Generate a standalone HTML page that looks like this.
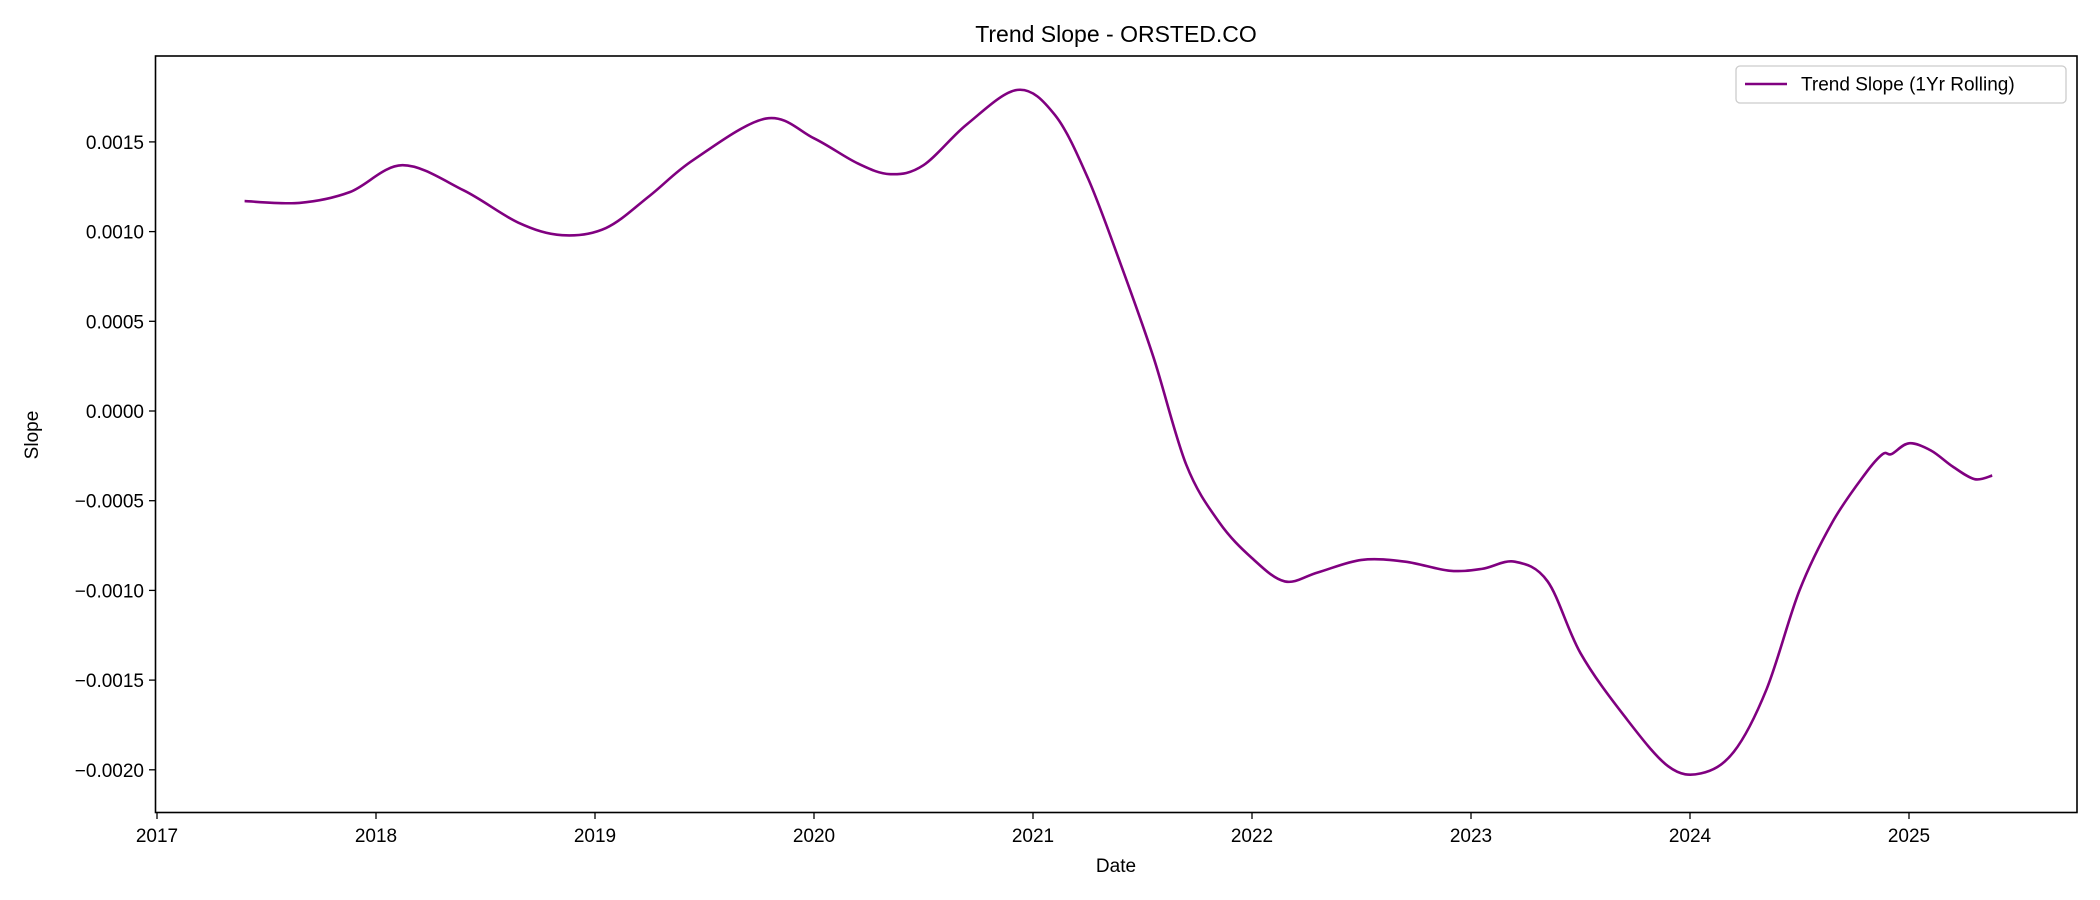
<!DOCTYPE html>
<html><head><meta charset="utf-8"><style>
body{margin:0;background:#fff}
svg{display:block;font-family:"Liberation Sans","DejaVu Sans",sans-serif}
</style></head><body>
<svg id="chart" width="2100" height="900" viewBox="0 0 2100 900">
<text x="1116" y="42" text-anchor="middle" font-size="23">Trend Slope - ORSTED.CO</text>
<g id="yticks"></g>
<g id="xticks"></g>
<g id="plot"></g>
<rect x="155.5" y="56" width="1921.5" height="756.5" fill="none" stroke="#000" stroke-width="1.6"/>
<text x="1116" y="872" text-anchor="middle" font-size="19">Date</text>
<text x="38" y="435" text-anchor="middle" font-size="19" transform="rotate(-90 38 435)">Slope</text>
<g>
<rect x="1736" y="66" width="330" height="37" rx="4" fill="#fff" stroke="#ccc" stroke-width="1.3"/>
<line x1="1745" y1="84" x2="1787" y2="84" stroke="#800080" stroke-width="2.6"/>
<text x="1801" y="90.5" font-size="19">Trend Slope (1Yr Rolling)</text>
</g>
</svg>
<script>
const years=[2017.40,2017.65,2017.88,2018.12,2018.40,2018.65,2018.85,2019.05,2019.25,2019.45,2019.78,2020.0,2020.2,2020.35,2020.5,2020.7,2020.93,2021.1,2021.25,2021.4,2021.55,2021.7,2021.85,2022.0,2022.15,2022.3,2022.5,2022.7,2022.9,2023.05,2023.2,2023.35,2023.5,2023.7,2023.9,2024.05,2024.2,2024.35,2024.5,2024.65,2024.8,2024.88,2024.92,2025.0,2025.1,2025.2,2025.3,2025.38];
const slopes=[0.00117,0.00116,0.00122,0.00137,0.00123,0.00105,0.00098,0.00102,0.00120,0.00140,0.00163,0.00152,0.00138,0.00132,0.00137,0.00160,0.00179,0.00165,0.00130,0.00082,0.00030,-0.00030,-0.00062,-0.00082,-0.00095,-0.00090,-0.00083,-0.00084,-0.00089,-0.00088,-0.00084,-0.00095,-0.00135,-0.00170,-0.00198,-0.00202,-0.00190,-0.00155,-0.00100,-0.00062,-0.00035,-0.00024,-0.00024,-0.00018,-0.00022,-0.00031,-0.00038,-0.00036];
const xTickLabels=["2017","2018","2019","2020","2021","2022","2023","2024","2025"];
const yTickValues=[-0.002,-0.0015,-0.001,-0.0005,0,0.0005,0.001,0.0015];
const yTickLabels=["\u22120.0020","\u22120.0015","\u22120.0010","\u22120.0005","0.0000","0.0005","0.0010","0.0015"];
const NS="http://www.w3.org/2000/svg";
function xs(yr){return 157+(yr-2017)*219;}
function ys(v){return 411-v*179400;}
const yg=document.getElementById('yticks');
yTickValues.forEach((v,i)=>{
 const y=ys(v);
 const l=document.createElementNS(NS,'line');
 l.setAttribute('x1',149);l.setAttribute('x2',155.5);l.setAttribute('y1',y);l.setAttribute('y2',y);l.setAttribute('stroke','#000');l.setAttribute('stroke-width','1.3');
 
 
 yg.appendChild(l);
 const t=document.createElementNS(NS,'text');
 t.setAttribute('x',144);t.setAttribute('y',y+7);t.setAttribute('text-anchor','end');t.setAttribute('font-size','19');
 t.textContent=yTickLabels[i];
 
 
 yg.appendChild(t);
});
const xg=document.getElementById('xticks');
xTickLabels.forEach(s=>{
 const x=xs(parseFloat(s));
 const l=document.createElementNS(NS,'line');
 l.setAttribute('x1',x);l.setAttribute('x2',x);l.setAttribute('y1',812.5);l.setAttribute('y2',819);l.setAttribute('stroke','#000');l.setAttribute('stroke-width','1.3');
 
 
 xg.appendChild(l);
 const t=document.createElementNS(NS,'text');
 t.setAttribute('x',x);t.setAttribute('y',842);t.setAttribute('text-anchor','middle');t.setAttribute('font-size','19');
 t.textContent=s;
 
 
 xg.appendChild(t);
});
const P=years.map((yr,i)=>[xs(yr),ys(slopes[i])]);
let d='M'+P[0][0]+','+P[0][1];
for(let i=0;i<P.length-1;i++){
 const p0=P[Math.max(0,i-1)],p1=P[i],p2=P[i+1],p3=P[Math.min(P.length-1,i+2)];
 const c1=[p1[0]+(p2[0]-p0[0])/6,p1[1]+(p2[1]-p0[1])/6];
 const c2=[p2[0]-(p3[0]-p1[0])/6,p2[1]-(p3[1]-p1[1])/6];
 d+=` C${c1[0]},${c1[1]} ${c2[0]},${c2[1]} ${p2[0]},${p2[1]}`;
}
const path=document.createElementNS(NS,'path');
path.setAttribute('d',d);path.setAttribute('fill','none');path.setAttribute('stroke','#800080');path.setAttribute('stroke-width','2.6');


document.getElementById('plot').appendChild(path);
</script>
</body></html>
